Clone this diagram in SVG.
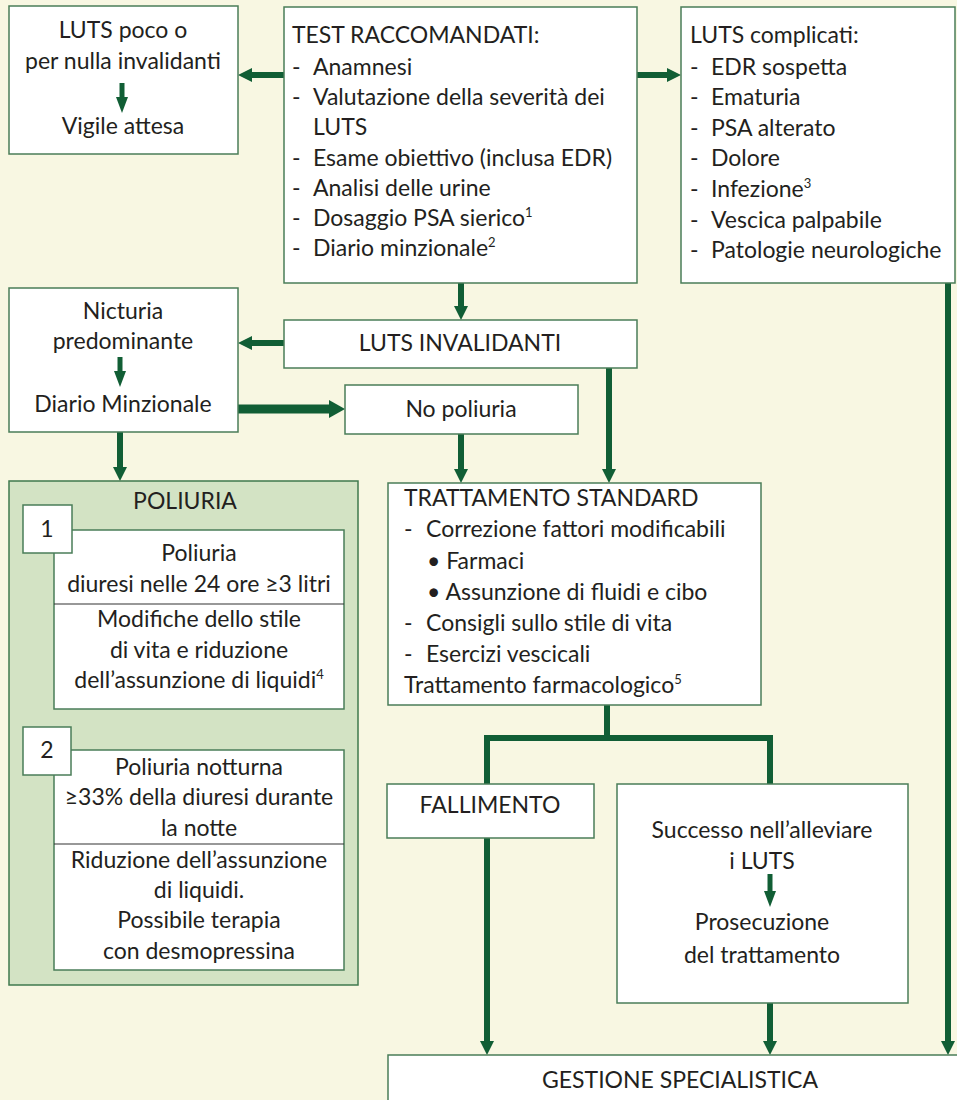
<svg xmlns="http://www.w3.org/2000/svg" width="957" height="1100" viewBox="0 0 957 1100">
<style>
.box{fill:#ffffff;stroke:#4a7d58;stroke-width:1.5}
.pol{fill:#d3e3c4;stroke:#3f7a4e;stroke-width:1.5}
.t{font-family:Lato,"Liberation Sans",sans-serif;font-size:23px;fill:#231f20}
.c{text-anchor:middle}
.ln{fill:none;stroke:#115e35;stroke-width:6}
.lnt{fill:none;stroke:#115e35;stroke-width:9}
.sm{fill:none;stroke:#115e35;stroke-width:5}
.div{stroke:#333;stroke-width:1.2}
.sup{font-size:13px}
</style>
<defs>
<marker id="ah" markerUnits="userSpaceOnUse" viewBox="0 0 14 14" markerWidth="14" markerHeight="14" refX="4" refY="7" orient="auto">
<path d="M0,0 L14,7 L0,14 z" fill="#115e35"/>
</marker>
<marker id="ahs" markerUnits="userSpaceOnUse" viewBox="0 0 16 12" markerWidth="16" markerHeight="12" refX="3" refY="6" orient="auto">
<path d="M0,0 L16,6 L0,12 z" fill="#115e35"/>
</marker>
<marker id="aht" markerUnits="userSpaceOnUse" viewBox="0 0 16 18" markerWidth="16" markerHeight="18" refX="4" refY="9" orient="auto">
<path d="M0,0 L16,9 L0,18 z" fill="#115e35"/>
</marker>
</defs>
<rect x="0" y="0" width="957" height="1100" fill="#f8f7e2"/>

<g id="connectors">
<path class="ln" d="M284,75 H248" marker-end="url(#ah)"/>
<path class="ln" d="M637,75 H671" marker-end="url(#ah)"/>
<path class="ln" d="M461,283 V310" marker-end="url(#ah)"/>
<path class="ln" d="M284,343 H248" marker-end="url(#ah)"/>
<path class="lnt" d="M238,409 H333" marker-end="url(#aht)"/>
<path class="ln" d="M120,432 V471" marker-end="url(#ah)"/>
<path class="ln" d="M461,434 V473" marker-end="url(#ah)"/>
<path class="ln" d="M609,368 V473" marker-end="url(#ah)"/>
<path class="ln" d="M607,705 V738 M487,738 H770 M487,735 V784 M770,735 V784"/>
<path class="ln" d="M487,838 V1045" marker-end="url(#ah)"/>
<path class="ln" d="M770,1003 V1045" marker-end="url(#ah)"/>
<path class="ln" d="M948,283 V1045" marker-end="url(#ah)"/>
</g>

<g id="n-luts-poco">
<rect class="box" x="9" y="6" width="229" height="148"/>
<text class="t c" x="123" y="38">LUTS poco o</text>
<text class="t c" x="123" y="69">per nulla invalidanti</text>
<path class="sm" d="M122,83 V100" marker-end="url(#ahs)"/>
<text class="t c" x="123" y="134">Vigile attesa</text>
</g>

<g id="n-test">
<rect class="box" x="284" y="7" width="353" height="276"/>
<text class="t" x="292" y="43">TEST RACCOMANDATI:</text>
<text class="t" x="292" y="75">-</text><text class="t" x="313" y="75">Anamnesi</text>
<text class="t" x="292" y="105">-</text><text class="t" x="313" y="105">Valutazione della severità dei</text>
<text class="t" x="313" y="135">LUTS</text>
<text class="t" x="292" y="166">-</text><text class="t" x="313" y="166">Esame obiettivo (inclusa EDR)</text>
<text class="t" x="292" y="196">-</text><text class="t" x="313" y="196">Analisi delle urine</text>
<text class="t" x="292" y="226">-</text><text class="t" x="313" y="226">Dosaggio PSA sierico<tspan class="sup" dy="-9">1</tspan></text>
<text class="t" x="292" y="256">-</text><text class="t" x="313" y="256">Diario minzionale<tspan class="sup" dy="-9">2</tspan></text>
</g>

<g id="n-luts-compl">
<rect class="box" x="681" y="7" width="274" height="276"/>
<text class="t" x="690" y="43">LUTS complicati:</text>
<text class="t" x="690" y="75">-</text><text class="t" x="711" y="75">EDR sospetta</text>
<text class="t" x="690" y="105">-</text><text class="t" x="711" y="105">Ematuria</text>
<text class="t" x="690" y="136">-</text><text class="t" x="711" y="136">PSA alterato</text>
<text class="t" x="690" y="166">-</text><text class="t" x="711" y="166">Dolore</text>
<text class="t" x="690" y="197">-</text><text class="t" x="711" y="197">Infezione<tspan class="sup" dy="-9">3</tspan></text>
<text class="t" x="690" y="228">-</text><text class="t" x="711" y="228">Vescica palpabile</text>
<text class="t" x="690" y="258">-</text><text class="t" x="711" y="258">Patologie neurologiche</text>
</g>

<g id="n-nicturia">
<rect class="box" x="9" y="288" width="229" height="144"/>
<text class="t c" x="123" y="319">Nicturia</text>
<text class="t c" x="123" y="349">predominante</text>
<path class="sm" d="M120,357 V374" marker-end="url(#ahs)"/>
<text class="t c" x="123" y="412">Diario Minzionale</text>
</g>

<g id="n-luts-inv">
<rect class="box" x="284" y="320" width="353" height="48"/>
<text class="t c" x="460" y="351">LUTS INVALIDANTI</text>
</g>

<g id="n-nopoliuria">
<rect class="box" x="345" y="385" width="233" height="49"/>
<text class="t c" x="461" y="417">No poliuria</text>
</g>

<g id="n-poliuria">
<rect class="pol" x="9" y="481" width="349" height="504"/>
<text class="t c" x="185" y="509">POLIURIA</text>
<rect class="box" x="54" y="530" width="290" height="179"/>
<line class="div" x1="54" y1="604" x2="344" y2="604"/>
<rect class="box" x="23" y="505" width="49" height="48"/>
<text class="t c" x="47" y="537">1</text>
<text class="t c" x="199" y="561">Poliuria</text>
<text class="t c" x="199" y="592">diuresi nelle 24 ore  ≥3 litri</text>
<text class="t c" x="199" y="627">Modifiche dello stile</text>
<text class="t c" x="199" y="658">di vita e riduzione</text>
<text class="t c" x="199" y="688">dell’assunzione di liquidi<tspan class="sup" dy="-9">4</tspan></text>
<rect class="box" x="54" y="750" width="290" height="220"/>
<line class="div" x1="54" y1="844" x2="344" y2="844"/>
<rect class="box" x="23" y="727" width="48" height="48"/>
<text class="t c" x="47" y="758">2</text>
<text class="t c" x="199" y="775">Poliuria notturna</text>
<text class="t c" x="199" y="805">≥33% della diuresi durante</text>
<text class="t c" x="199" y="836">la notte</text>
<text class="t c" x="199" y="868">Riduzione dell’assunzione</text>
<text class="t c" x="199" y="898">di liquidi.</text>
<text class="t c" x="199" y="928">Possibile terapia</text>
<text class="t c" x="199" y="959">con desmopressina</text>
</g>

<g id="n-trattamento">
<rect class="box" x="388" y="483" width="373" height="222"/>
<text class="t" x="404" y="506">TRATTAMENTO STANDARD</text>
<text class="t" x="404" y="537">-</text><text class="t" x="426" y="537">Correzione fattori modificabili</text>
<text class="t" x="427" y="569">• Farmaci</text>
<text class="t" x="427" y="600">• Assunzione di fluidi e cibo</text>
<text class="t" x="404" y="631">-</text><text class="t" x="426" y="631">Consigli sullo stile di vita</text>
<text class="t" x="404" y="662">-</text><text class="t" x="426" y="662">Esercizi vescicali</text>
<text class="t" x="404" y="693">Trattamento farmacologico<tspan class="sup" dy="-9">5</tspan></text>
</g>

<g id="n-fallimento">
<rect class="box" x="387" y="784" width="207" height="54"/>
<text class="t c" x="490" y="813">FALLIMENTO</text>
</g>

<g id="n-successo">
<rect class="box" x="617" y="784" width="291" height="219"/>
<text class="t c" x="762" y="838">Successo nell’alleviare</text>
<text class="t c" x="762" y="869">i LUTS</text>
<path class="sm" d="M770,874 V894" marker-end="url(#ahs)"/>
<text class="t c" x="762" y="930">Prosecuzione</text>
<text class="t c" x="762" y="963">del trattamento</text>
</g>

<g id="n-gestione">
<rect class="box" x="388" y="1055" width="580" height="60"/>
<text class="t c" x="680" y="1088">GESTIONE SPECIALISTICA</text>
</g>
</svg>
